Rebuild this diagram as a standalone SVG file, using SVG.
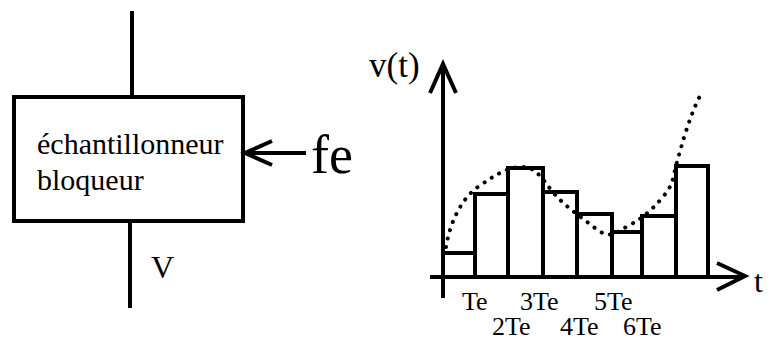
<svg xmlns="http://www.w3.org/2000/svg" width="770" height="340" viewBox="0 0 770 340">
<defs>
<style>
.ln{stroke:#000;stroke-width:4;fill:none}
.bar{stroke:#000;stroke-width:4;fill:none}
</style>
</defs>
<rect width="770" height="340" fill="#fff"/>
<g id="connectors">
<line class="ln" x1="132" y1="11" x2="132" y2="97"/>
<line class="ln" x1="130" y1="221" x2="130" y2="308"/>
<line class="ln" x1="245" y1="153" x2="306" y2="153"/>
<polyline class="ln" points="272,141 245,153 272,165"/>
</g>
<g font-family="Liberation Serif, DejaVu Serif, serif" fill="#000">
<g id="sampler">
<rect class="bar" x="14" y="97" width="229" height="124"/>
<text x="37" y="154" font-size="30">échantillonneur</text>
<text x="37" y="190" font-size="30">bloqueur</text>
</g>
<g id="label-fe"><text x="311" y="173" font-size="54">fe</text></g>
<g id="label-v"><text x="151" y="278" font-size="32">V</text></g>
<g id="graph">
<line class="ln" x1="443" y1="298" x2="443" y2="65"/>
<polyline class="ln" points="430,93 443,64 456,93"/>
<line class="ln" x1="430" y1="277" x2="744" y2="277"/>
<polyline class="ln" points="717,263 745,276 717,290"/>
<rect class="bar" x="443" y="253" width="32" height="24"/>
<rect class="bar" x="475" y="194" width="33" height="83"/>
<rect class="bar" x="508" y="168" width="35" height="109"/>
<rect class="bar" x="543" y="192" width="34" height="85"/>
<rect class="bar" x="577" y="214" width="35" height="63"/>
<rect class="bar" x="612" y="232" width="30" height="45"/>
<rect class="bar" x="642" y="216" width="34" height="61"/>
<rect class="bar" x="676" y="166" width="32" height="111"/>
<path fill="none" stroke="#000" stroke-width="4" stroke-linecap="round" stroke-dasharray="0.1 8.5" d="M446,247 C450,222 462,198 478,187 S505,168 520,167 S540,176 552,191 S580,216 595,228 S615,233 628,226 S650,212 662,198 S672,180 677,162 S690,115 700,96"/>
<text x="369" y="77" font-size="35">v(t)</text>
<text x="754" y="292" font-size="32">t</text>
<text x="462" y="310" font-size="26">Te</text>
<text x="520" y="310" font-size="26">3Te</text>
<text x="594" y="310" font-size="26">5Te</text>
<text x="492" y="335" font-size="26">2Te</text>
<text x="560" y="335" font-size="26">4Te</text>
<text x="623" y="335" font-size="26">6Te</text>
</g>
</g>
</svg>
